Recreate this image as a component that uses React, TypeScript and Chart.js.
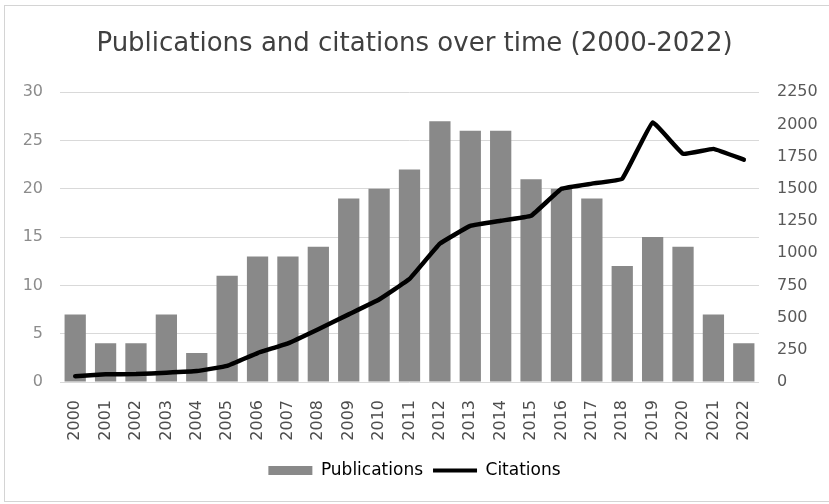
import React, { useEffect, useRef } from "react";
import { Chart, registerables } from "chart.js";

Chart.register(...registerables);

const years = [
  "2000", "2001", "2002", "2003", "2004", "2005", "2006", "2007", "2008", "2009", "2010", "2011",
  "2012", "2013", "2014", "2015", "2016", "2017", "2018", "2019", "2020", "2021", "2022",
];
const publications = [7, 4, 4, 7, 3, 11, 13, 13, 14, 19, 20, 22, 27, 26, 26, 21, 20, 19, 12, 15, 14, 7, 4];
const citations = [
  45, 60, 62, 72, 85, 125, 225, 300, 410, 525, 640, 800, 1074, 1212, 1252, 1290, 1500, 1540, 1578,
  2015, 1772, 1810, 1726,
];
const leftTicks = [0, 5, 10, 15, 20, 25, 30];
const rightTicks = [0, 250, 500, 750, 1000, 1250, 1500, 1750, 2000, 2250];

const BAR = "#898989";
const FONT = "'DejaVu Sans', sans-serif";

export default function App() {
  const ref = useRef<HTMLCanvasElement | null>(null);

  useEffect(() => {
    if (!ref.current) return;
    const chart = new Chart(ref.current, {
      data: {
        labels: years,
        datasets: [
          {
            type: "line",
            label: "Citations",
            data: citations,
            yAxisID: "y1",
            borderColor: "#000000",
            backgroundColor: "#000000",
            borderWidth: 4.5,
            pointRadius: 0,
            tension: 0.08,
            borderJoinStyle: "round",
            borderCapStyle: "round",
            order: 0,
          },
          {
            type: "bar",
            label: "Publications",
            data: publications,
            yAxisID: "y",
            backgroundColor: BAR,
            borderWidth: 0,
            categoryPercentage: 1,
            barPercentage: 0.7,
            order: 1,
          },
        ],
      },
      options: {
        responsive: false,
        animation: false,
        layout: { padding: { left: 0, right: 0, top: 0, bottom: 15 } },
        plugins: {
          tooltip: { enabled: false },
          title: {
            display: true,
            text: "Publications and citations over time (2000-2022)",
            color: "#404040",
            font: { family: FONT, size: 26, weight: "normal", lineHeight: 1.2 },
            padding: { top: 29, bottom: 32 },
          },
          legend: {
            display: true,
            position: "bottom",
            labels: {
              usePointStyle: true,
              pointStyleWidth: 44,
              boxHeight: 9,
              padding: 10,
              color: "#595959",
              font: { family: FONT, size: 17 },
              generateLabels: () => [
                {
                  text: "Publications",
                  fillStyle: BAR,
                  strokeStyle: BAR,
                  lineWidth: 0,
                  pointStyle: "rect",
                  datasetIndex: 1,
                  hidden: false,
                } as any,
                {
                  text: "Citations",
                  fillStyle: "#000000",
                  strokeStyle: "#000000",
                  lineWidth: 4,
                  pointStyle: "line",
                  datasetIndex: 0,
                  hidden: false,
                } as any,
              ],
            },
          },
        },
        scales: {
          x: {
            grid: { display: false },
            border: { display: false },
            ticks: {
              minRotation: 90,
              maxRotation: 90,
              padding: 10,
              color: "#4d4d4d",
              font: { family: FONT, size: 16 },
            },
            afterFit: (s: any) => {
              s.height = 70;
            },
          },
          y: {
            position: "left",
            min: 0,
            max: 30,
            afterBuildTicks: (s: any) => {
              s.ticks = leftTicks.map((v) => ({ value: v }));
            },
            grid: { color: "#d9d9d9", lineWidth: 1, drawTicks: false },
            border: { display: false },
            ticks: {
              padding: 17,
              color: "#8c8c8c",
              font: { family: FONT, size: 16 },
              callback: (v: any) => String(v),
            },
            afterFit: (s: any) => {
              s.width = 60;
            },
          },
          y1: {
            position: "right",
            min: 0,
            max: 2250,
            afterBuildTicks: (s: any) => {
              s.ticks = rightTicks.map((v) => ({ value: v }));
            },
            grid: { display: false, drawTicks: false },
            border: { display: false },
            ticks: {
              padding: 18,
              color: "#595959",
              font: { family: FONT, size: 16 },
              callback: (v: any) => String(v),
            },
            afterFit: (s: any) => {
              s.width = 70;
            },
          },
        },
      },
    } as any);
    return () => chart.destroy();
  }, []);

  return (
    <div style={{ position: "absolute", left: 0, top: 0, width: 829, height: 504, background: "#fff", overflow: "hidden" }}>
      <div
        style={{
          position: "absolute",
          left: 4,
          top: 5,
          width: 840,
          height: 497,
          border: "1px solid #d4d4d4",
          boxSizing: "border-box",
        }}
      />
      <canvas ref={ref} width={829} height={504} style={{ position: "absolute", left: 0, top: 0, width: 829, height: 504 }} />
    </div>
  );
}
